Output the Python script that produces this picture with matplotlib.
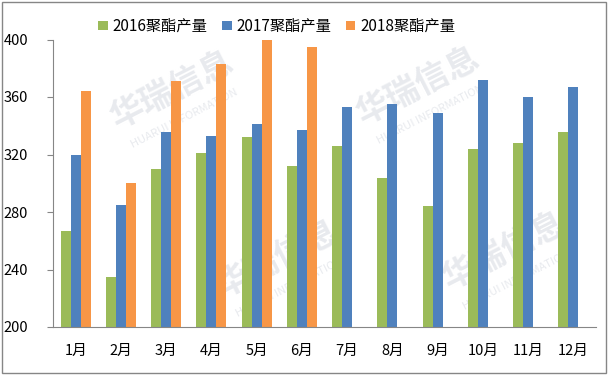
import matplotlib
matplotlib.use('Agg')

import numpy as np
import matplotlib.pyplot as plt
from matplotlib.patches import Rectangle

plt.rcParams['font.family'] = ['Noto Sans CJK SC', 'DejaVu Sans']

months = ["1月", "2月", "3月", "4月", "5月", "6月", "7月", "8月", "9月", "10月", "11月", "12月"]
y2016 = [267, 235, 310, 321, 332, 312, 326, 304, 284, 324, 328, 336]
y2017 = [320, 285, 336, 333, 341, 337, 353, 355, 349, 372, 360, 367]
y2018 = [364, 300, 371, 383, 401, 395, np.nan, np.nan, np.nan, np.nan, np.nan, np.nan]
series_names = ["2016聚酯产量", "2017聚酯产量", "2018聚酯产量"]
colors = ["#9BBB59", "#4F81BD", "#F79646"]

fig = plt.figure(figsize=(6.15, 3.76), dpi=100)
ax = fig.add_axes([53 / 615, 1 - 327 / 376, 543 / 615, 287.5 / 376])
ax.set_zorder(2)
ax.patch.set_alpha(0)

# watermark (behind the bars)
wm = [(0.28, 0.76), (0.68, 0.77), (0.45, 0.31), (0.82, 0.33)]
for wx, wy in wm:
    fig.text(wx, wy, "华瑞信息", fontsize=24, color="#E8EAEE", rotation=27,
             ha="center", va="center", fontweight="bold", zorder=0)
    fig.text(wx + 0.02, wy - 0.075, "HUARUI INFORMATION", fontsize=8, color="#E8EAEE",
             rotation=27, ha="center", va="center", zorder=0)

x = np.arange(len(months))
w = 0.22
for i, (vals, name, c) in enumerate(zip([y2016, y2017, y2018], series_names, colors)):
    ax.bar(x + (i - 1) * w, vals, width=w, color=c, label=name, zorder=2)

ax.set_xlim(-0.5, len(months) - 0.5)
ax.set_ylim(200, 400)
ax.set_yticks([200, 240, 280, 320, 360, 400])
ax.set_xticks(x)
ax.set_xticklabels(months)
ax.tick_params(axis='y', labelsize=10.5, length=4, color="#868686", pad=14)
ax.tick_params(axis='x', labelsize=10.5, length=0, pad=12)
for s in ["top", "right"]:
    ax.spines[s].set_visible(False)
for s in ["left", "bottom"]:
    ax.spines[s].set_color("#868686")

fig.legend(loc="center", bbox_to_anchor=(0.45, 0.93), ncol=3, frameon=False,
           fontsize=11, handlelength=0.6, handleheight=0.6, handletextpad=0.3,
           columnspacing=1.0)

fig.patches.append(Rectangle((2 / 615, 3 / 376), 604 / 615, 371 / 376, transform=fig.transFigure,
                             fill=False, edgecolor="#868686", linewidth=1))

fig.savefig("out.png", dpi=100)
